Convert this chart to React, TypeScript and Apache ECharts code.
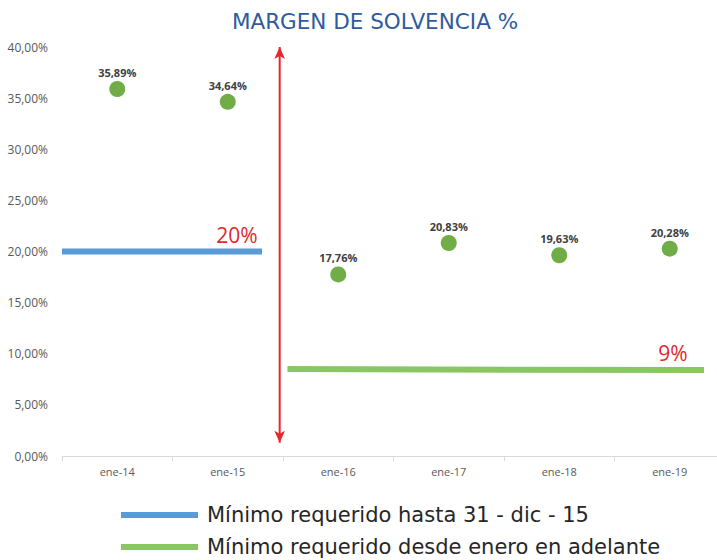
import React, { useEffect, useRef } from "react";
import * as echarts from "echarts";

const categories = ["ene-14", "ene-15", "ene-16", "ene-17", "ene-18", "ene-19"];
const solvencia = [35.89, 34.64, 17.76, 20.83, 19.63, 20.28];
// requirement lines on a continuous x scale (0..6 = category span)
const blueLine = [[0, 20], [1.81, 20]];
const greenLine = [[2.04, 8.5], [5.81, 8.4]];
const arrowX = 1.97;
const arrowY = [1.3, 40.0];
const blueLabel = "20%";
const greenLabel = "9%";
const legendNames = ["Mínimo requerido hasta 31 - dic - 15", "Mínimo requerido desde enero en adelante"];

const FONT = "'Open Sans', sans-serif";
const BLUE = "#5B9BD5";
const GREEN = "#88C764";
const RED = "#E0282E";

export default function App() {
  const ref = useRef<HTMLDivElement>(null);
  useEffect(() => {
    const chart = echarts.init(ref.current!, null, { renderer: "svg" });
    const fmt = (v: number) => v.toFixed(2).replace(".", ",") + "%";
    const legendCommon = {
      left: 121,
      padding: 0,
      itemWidth: 77,
      itemHeight: 6,
      icon: "rect",
      textStyle: {
        fontFamily: "'DejaVu Sans', sans-serif",
        fontSize: 21,
        lineHeight: 24,
        color: "#262626",
        padding: [0, 0, 0, 4],
      },
    };
    const endLabel = (text: string, dx: number) => ({
      show: true,
      formatter: text,
      position: "top",
      distance: 6,
      offset: [dx, 0],
      color: RED,
      fontFamily: FONT,
      fontSize: 21,
    });
    chart.setOption({
      animation: false,
      title: {
        text: "MARGEN DE SOLVENCIA %",
        left: 370,
        textAlign: "center",
        top: 5,
        textStyle: { color: "#2F5B9E", fontFamily: "'DejaVu Sans', sans-serif", fontSize: 21.5, fontWeight: 500 },
      },
      grid: { left: 62, width: 663, top: 47, bottom: 104, outerBoundsMode: "none", containLabel: false },
      legend: [
        { ...legendCommon, top: 503, data: [{ name: legendNames[0], itemStyle: { color: BLUE, opacity: 1 } }] },
        { ...legendCommon, top: 535, data: [{ name: legendNames[1], itemStyle: { color: GREEN, opacity: 1 } }] },
      ],
      xAxis: [
        {
          type: "category",
          data: categories,
          boundaryGap: true,
          axisLine: { lineStyle: { color: "#D9D9D9", width: 1 } },
          axisTick: { show: true, length: 5, lineStyle: { color: "#D9D9D9" } },
          axisLabel: { color: "#595959", fontFamily: FONT, fontSize: 11, margin: 10 },
          splitLine: { show: false },
        },
        { type: "value", min: 0, max: 6, show: false },
      ],
      yAxis: {
        type: "value",
        min: 0,
        max: 40,
        interval: 5,
        axisLine: { show: false },
        axisTick: { show: false },
        splitLine: { show: false },
        axisLabel: { formatter: fmt, color: "#595959", fontFamily: FONT, fontSize: 12, margin: 14 },
      },
      series: [
        {
          name: legendNames[0],
          type: "line",
          xAxisIndex: 1,
          data: blueLine.map((p, i) =>
            i === blueLine.length - 1 ? { value: p, label: endLabel(blueLabel, -25) } : p
          ),
          symbol: "circle",
          symbolSize: 1,
          lineStyle: { color: BLUE, width: 6, cap: "butt" },
          itemStyle: { color: "transparent", borderWidth: 0 },
          z: 3,
        },
        {
          name: legendNames[1],
          type: "line",
          xAxisIndex: 1,
          data: greenLine.map((p, i) =>
            i === greenLine.length - 1 ? { value: p, label: endLabel(greenLabel, -31) } : p
          ),
          symbol: "circle",
          symbolSize: 1,
          lineStyle: { color: GREEN, width: 6, cap: "butt" },
          itemStyle: { color: "transparent", borderWidth: 0 },
          z: 3,
        },
        {
          name: "arrow",
          type: "line",
          xAxisIndex: 1,
          data: [
            { value: [arrowX, arrowY[0]], symbolRotate: 180 },
            { value: [arrowX, arrowY[1]], symbolRotate: 0 },
          ],
          symbol: "arrow",
          symbolSize: [8, 12],
          showSymbol: true,
          lineStyle: { color: "#E8262B", width: 2 },
          itemStyle: { color: "#E8262B" },
          clip: false,
          z: 5,
        },
        {
          name: "Margen",
          type: "scatter",
          xAxisIndex: 0,
          data: solvencia,
          symbolSize: 16,
          itemStyle: { color: "#70AD47", opacity: 1 },
          label: {
            show: true,
            position: "top",
            distance: 3,
            formatter: (p: any) => fmt(p.value),
            color: "#404040",
            fontFamily: FONT,
            fontWeight: "bold",
            fontSize: 11,
          },
          z: 4,
        },
      ],
    });
    return () => chart.dispose();
  }, []);
  return <div ref={ref} style={{ width: 717, height: 560, position: "absolute", left: 0, top: 0 }} />;
}
